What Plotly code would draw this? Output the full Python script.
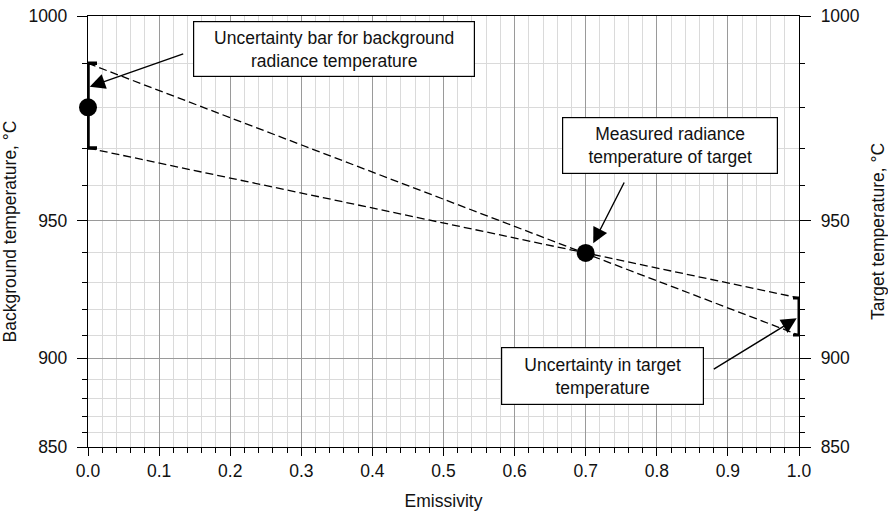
import numpy as np
import plotly.graph_objects as go

# ---- data ----
background_emissivity = 0.0
background_temp = 980.0          # deg C
background_unc = 10.0            # +/- deg C
measured_emissivity = 0.7
measured_temp = 940.0            # deg C
target_emissivity = 1.0
target_low = 910.0               # deg C
target_high = 924.5              # deg C
y_tick_temps = [850, 900, 950, 1000]
y_minor_temps = list(range(850, 1001, 10))
x_tick_vals = [round(0.1 * i, 1) for i in range(11)]

# radiance (Wien, 1 um) scale used for the temperature axes
WAVELENGTH_UM = 1.0
C2 = 14388.0


def rad(t):
    t = np.asarray(t, dtype=float)
    return np.exp(-C2 / (WAVELENGTH_UM * (t + 273.15))) / np.exp(-C2 / (WAVELENGTH_UM * (1000 + 273.15)))


FONT = "Liberation Sans, Arial, Helvetica, sans-serif"
TXT = "#111111"
FS = 17.5
yr = [float(rad(850)), float(rad(1000))]
ytv = [float(v) for v in rad(y_tick_temps)]
ymv = [float(v) for v in rad(y_minor_temps)]

fig = go.Figure()

# dashed construction lines (straight in radiance space)
fig.add_trace(go.Scatter(
    x=[background_emissivity, target_emissivity],
    y=[float(rad(background_temp + background_unc)), float(rad(target_low))],
    mode="lines", line=dict(color="black", width=1.3, dash="8px,4px"),
    hoverinfo="skip", showlegend=False))
fig.add_trace(go.Scatter(
    x=[background_emissivity, target_emissivity],
    y=[float(rad(background_temp - background_unc)), float(rad(target_high))],
    mode="lines", line=dict(color="black", width=1.3, dash="8px,4px"),
    hoverinfo="skip", showlegend=False))

# background radiance temperature with uncertainty bar
yb = float(rad(background_temp))
fig.add_trace(go.Scatter(
    x=[background_emissivity], y=[yb], mode="markers",
    marker=dict(color="black", size=18),
    error_y=dict(type="data", symmetric=False,
                 array=[float(rad(background_temp + background_unc)) - yb],
                 arrayminus=[yb - float(rad(background_temp - background_unc))],
                 color="black", thickness=3.5, width=9),
    cliponaxis=False, showlegend=False))

# measured radiance temperature of target
fig.add_trace(go.Scatter(
    x=[measured_emissivity], y=[float(rad(measured_temp))], mode="markers",
    marker=dict(color="black", size=18), cliponaxis=False, showlegend=False))

# uncertainty in target temperature (right axis)
yh = float(rad(target_high))
fig.add_trace(go.Scatter(
    x=[target_emissivity], y=[yh], mode="markers", yaxis="y2",
    marker=dict(color="black", size=1, opacity=0),
    error_y=dict(type="data", symmetric=False, array=[0],
                 arrayminus=[yh - float(rad(target_low))],
                 color="black", thickness=3, width=6),
    cliponaxis=False, showlegend=False))

axis_common = dict(showline=True, linecolor="black", linewidth=1.3,
                   ticks="outside", tickwidth=1.3, tickcolor="black",
                   zeroline=False, automargin=False,
                   tickfont=dict(family=FONT, size=FS, color=TXT))

fig.update_layout(
    width=888, height=519,
    margin=dict(l=88, r=89, t=16, b=72),
    paper_bgcolor="white", plot_bgcolor="white",
    font=dict(family=FONT, size=FS, color=TXT),
    xaxis=dict(range=[0, 1], tickvals=x_tick_vals, tickformat=".1f", ticklen=8,
               showgrid=True, gridcolor="#9a9a9a", gridwidth=1, mirror=True,
               minor=dict(dtick=0.02, tick0=0, ticks="outside", ticklen=5,
                          tickcolor="black", tickwidth=1.2,
                          showgrid=True, gridcolor="#dadada", gridwidth=1),
               title=dict(text="Emissivity", font=dict(family=FONT, size=FS, color=TXT),
                          standoff=14),
               **axis_common),
    yaxis=dict(range=yr, tickvals=ytv, ticktext=[str(t) for t in y_tick_temps],
               ticklen=10, ticklabelstandoff=6,
               showgrid=True, gridcolor="#9a9a9a", gridwidth=1,
               minor=dict(tickmode="array", tickvals=ymv, ticks="outside", ticklen=5,
                          tickcolor="black", tickwidth=1.2,
                          showgrid=True, gridcolor="#dadada", gridwidth=1),
               title=dict(text="Background temperature, °C",
                          font=dict(family=FONT, size=FS, color=TXT), standoff=8),
               **axis_common),
    yaxis2=dict(range=yr, overlaying="y", side="right", ticklen=11,
                ticklabelstandoff=6,
                tickvals=ytv, ticktext=[str(t) for t in y_tick_temps],
                showgrid=False,
                minor=dict(tickmode="array", tickvals=ymv, ticks="outside", ticklen=5,
                           tickcolor="black", tickwidth=1.2, showgrid=False),
                title=dict(text="Target temperature, °C",
                           font=dict(family=FONT, size=FS, color=TXT), standoff=13),
                **axis_common),
)

box = dict(xref="paper", yref="paper", showarrow=False, bgcolor="white",
           bordercolor="black", borderwidth=1.2, borderpad=0,
           font=dict(family=FONT, size=FS, color=TXT), align="center",
           xanchor="center", yanchor="middle")
fig.add_annotation(text="Uncertainty bar for background<br>radiance temperature",
                   x=0.3457, y=0.9234, width=280, height=54, **box)
fig.add_annotation(text="Measured radiance<br>temperature of target",
                   x=0.8181, y=0.699, width=214, height=55, **box)
fig.add_annotation(text="Uncertainty in target<br>temperature",
                   x=0.7232, y=0.1643, width=201, height=56, **box)

arrow = dict(xref="paper", yref="paper", text="", showarrow=True,
             arrowhead=2, arrowsize=2.2, arrowwidth=1.4, arrowcolor="black",
             standoff=0, startstandoff=0)
fig.add_annotation(x=0.0024, y=0.836, ax=95, ay=-33.4, **arrow)
fig.add_annotation(x=0.7106, y=0.4726, ax=31.7, ay=-62.3, **arrow)
fig.add_annotation(x=0.9968, y=0.2986, ax=-84.4, ay=51.7, **arrow)

fig.write_html("out.html", config={"displayModeBar": False},
               post_script="document.body.style.margin='0';")
